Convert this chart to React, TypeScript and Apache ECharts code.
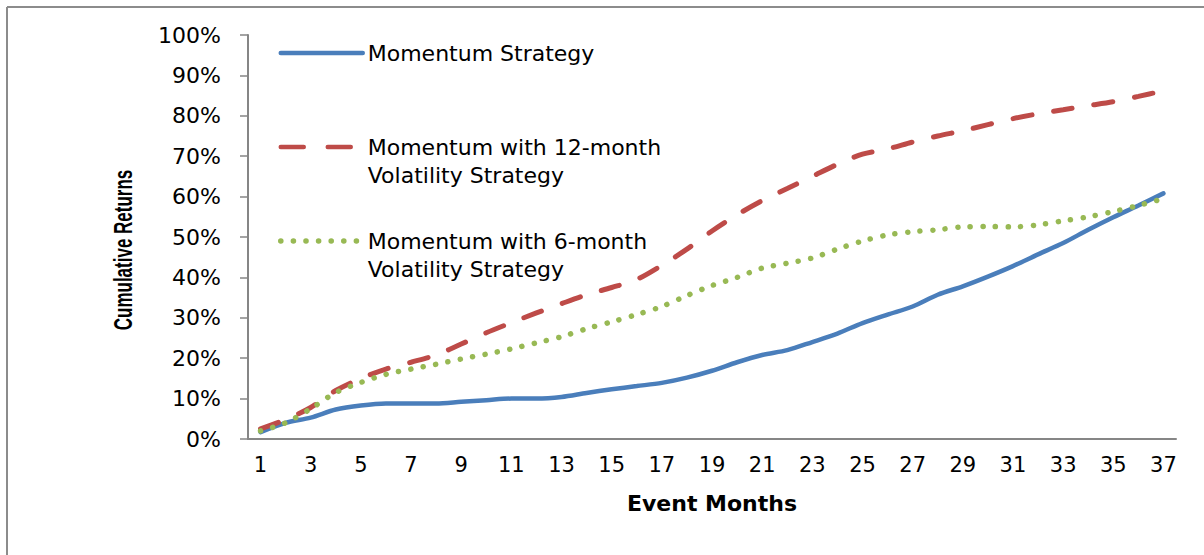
import React, { useEffect, useRef } from "react";
import * as echarts from "echarts";

const months = Array.from({ length: 37 }, (_, i) => String(i + 1));

const momentum = [
  1.7, 4.0, 5.3, 7.3, 8.3, 8.8, 8.8, 8.8, 9.2, 9.6, 10.0, 10.0, 10.4, 11.4, 12.3, 13.1, 13.9, 15.2, 16.9,
  19.0, 20.8, 22.0, 24.0, 26.1, 28.7, 30.8, 32.8, 35.7, 37.8, 40.2, 42.8, 45.7, 48.5, 51.8, 54.9, 57.8, 60.8,
];

const vol12 = [
  2.5, 4.8, 7.8, 12.0, 15.0, 17.3, 19.0, 20.8, 23.5, 26.3, 28.8, 31.2, 33.5, 35.7, 37.5, 39.5, 43.0, 47.0, 51.5,
  55.5, 59.0, 62.0, 65.0, 68.0, 70.5, 71.8, 73.5, 75.0, 76.3, 77.8, 79.3, 80.5, 81.5, 82.5, 83.5, 84.8, 86.2,
];

const vol6 = [
  2.0, 4.0, 7.5, 11.5, 14.0, 16.0, 17.3, 18.5, 19.8, 21.0, 22.3, 23.8, 25.3, 27.3, 29.0, 30.8, 32.8, 35.5, 38.0,
  40.0, 42.3, 43.5, 44.8, 47.0, 49.0, 50.5, 51.3, 51.8, 52.5, 52.6, 52.5, 53.0, 54.0, 55.0, 56.3, 57.8, 59.5,
];

const seriesNames = [
  "Momentum Strategy",
  "Momentum with 12-month\nVolatility Strategy",
  "Momentum with 6-month\nVolatility Strategy",
];

const yTicks = { min: 0, max: 100, interval: 10 };

export default function App() {
  const ref = useRef<HTMLDivElement>(null);

  useEffect(() => {
    if (!ref.current) return;
    const chart = echarts.init(ref.current, null, { renderer: "svg" });
    const axisGray = "#868686";
    chart.setOption({
      animation: false,
      backgroundColor: "#ffffff",
      grid: { left: 248, right: 28, top: 35, bottom: 116, containLabel: false },
      legend: {
        orient: "vertical",
        left: 273,
        top: 6,
        itemWidth: 82,
        itemHeight: 14,
        itemGap: 10,
        itemStyle: { color: "rgba(0,0,0,0)", borderWidth: 0, opacity: 0 },
        lineStyle: { width: 4.5 },
        data: [
          { name: seriesNames[0] },
          { name: seriesNames[1], lineStyle: { type: [23, 24], width: 4.5 } },
          { name: seriesNames[2], lineStyle: { type: [0.1, 12.5], width: 5.5 } },
        ],
        formatter: (name: string) => (name.indexOf("\n") >= 0 ? " \n" + name : " \n" + name + "\n "),
        textStyle: {
          fontFamily: "DejaVu Sans",
          fontSize: 22,
          color: "#000",
          lineHeight: 28,
        },
      },
      xAxis: {
        type: "category",
        data: months,
        boundaryGap: true,
        name: "Event Months",
        nameLocation: "middle",
        nameGap: 53,
        nameTextStyle: { fontFamily: "DejaVu Sans", fontWeight: "bold", fontSize: 22, color: "#000" },
        axisLine: { lineStyle: { color: axisGray, width: 2 } },
        axisTick: { show: false },
        axisLabel: {
          interval: 1,
          margin: 15,
          fontFamily: "DejaVu Sans",
          fontSize: 21,
          color: "#000",
        },
      },
      yAxis: {
        type: "value",
        min: yTicks.min,
        max: yTicks.max,
        interval: yTicks.interval,
        axisLine: { show: true, lineStyle: { color: axisGray, width: 2 } },
        axisTick: { show: true, length: 8, lineStyle: { color: axisGray, width: 1.5 } },
        splitLine: { show: false },
        axisLabel: {
          formatter: "{value}%",
          margin: 27,
          fontFamily: "DejaVu Sans",
          fontSize: 22,
          color: "#000",
        },
      },
      graphic: [
        {
          type: "line",
          shape: { x1: 7, y1: 7, x2: 1204, y2: 7 },
          style: { stroke: "#8c8c8c", lineWidth: 2 },
        },
        {
          type: "line",
          shape: { x1: 7, y1: 7, x2: 7, y2: 555 },
          style: { stroke: "#8c8c8c", lineWidth: 2 },
        },
        {
          type: "text",
          x: 124,
          y: 250,
          rotation: Math.PI / 2,
          scaleX: 0.68,
          style: {
            text: "Cumulative Returns",
            fontFamily: "Liberation Sans",
            fontSize: 25,
            fontWeight: "bold",
            fill: "#000",
            align: "center",
            verticalAlign: "middle",
          },
        },
      ],
      series: [
        {
          name: seriesNames[0],
          type: "line",
          data: momentum,
          symbol: "none",
          smooth: 0.3,
          lineStyle: { color: "#4A7EBB", width: 4.5, cap: "round" },
          itemStyle: { color: "#4A7EBB" },
        },
        {
          name: seriesNames[1],
          type: "line",
          data: vol12,
          symbol: "none",
          smooth: 0.3,
          lineStyle: { color: "#BE4B48", width: 5, type: [19, 22], cap: "round" },
          itemStyle: { color: "#BE4B48" },
        },
        {
          name: seriesNames[2],
          type: "line",
          data: vol6,
          symbol: "none",
          smooth: 0.3,
          lineStyle: { color: "#98B954", width: 5.5, type: [0.1, 12.5], cap: "round" },
          itemStyle: { color: "#98B954" },
        },
      ],
    });
    return () => chart.dispose();
  }, []);

  return (
    <div
      ref={ref}
      style={{ position: "fixed", left: 0, top: 0, width: 1204, height: 555, background: "#fff" }}
    />
  );
}
